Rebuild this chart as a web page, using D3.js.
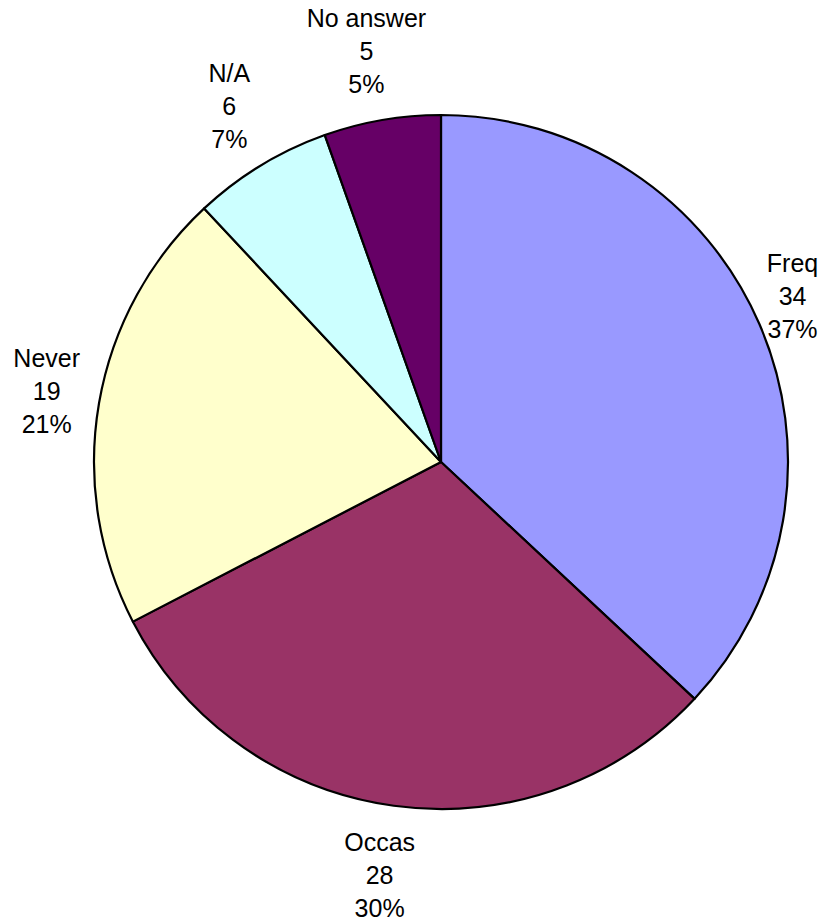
<!DOCTYPE html>
<html>
<head>
<meta charset="utf-8">
<script src="https://cdn.jsdelivr.net/npm/d3@7"></script>
<style>
  body { margin: 0; background: #fff; }
  text { font-family: "Liberation Sans", Arial, sans-serif; }
</style>
</head>
<body>
<div id="chart"></div>
<script>
const width = 832;
const height = 922;

// Data, clockwise from 12 o'clock
const categories = ["Freq", "Occas", "Never", "N/A", "No answer"];
const counts = [34, 28, 19, 6, 5];
const sliceColors = ["#9999ff", "#993366", "#ffffcc", "#ccffff", "#660066"];

const total = d3.sum(counts);
const cx = 441, cy = 462, radius = 347;

const svg = d3.select("#chart")
    .append("svg")
    .attr("width", width)
    .attr("height", height)
    .style("background-color", "#fff");

const pie = d3.pie().sort(null).value(d => d.value);
const arc = d3.arc().innerRadius(0).outerRadius(radius);

const data = categories.map((c, i) => ({name: c, value: counts[i], color: sliceColors[i]}));
const arcs = pie(data);

const g = svg.append("g").attr("transform", `translate(${cx},${cy})`);

g.selectAll("path.slice")
    .data(arcs)
    .enter().append("path")
    .attr("class", "slice")
    .attr("d", arc)
    .attr("fill", d => d.data.color)
    .attr("stroke", "#000")
    .attr("stroke-width", 2.2)
    .attr("stroke-linejoin", "round");

// Labels outside, on an ellipse around the pie (nudged a bit left like the original)
const lineGap = 33;
const labels = g.selectAll("text.label")
    .data(arcs)
    .enter().append("text")
    .attr("class", "label")
    .attr("text-anchor", "middle")
    .attr("font-size", "25px")
    .attr("fill", "#000")
    .attr("transform", d => {
        const a = (d.startAngle + d.endAngle) / 2;
        const x = Math.sin(a) * (radius + 45) - 8;
        const y = -Math.cos(a) * (radius + 70);
        return `translate(${x},${y})`;
    });

labels.each(function (d) {
    const t = d3.select(this);
    const pct = Math.round(d.data.value / total * 100) + "%";
    [d.data.name, String(d.data.value), pct].forEach((s, i) => {
        t.append("tspan")
            .attr("x", 0)
            .attr("y", -24 + i * lineGap)
            .text(s);
    });
});
</script>
</body>
</html>
